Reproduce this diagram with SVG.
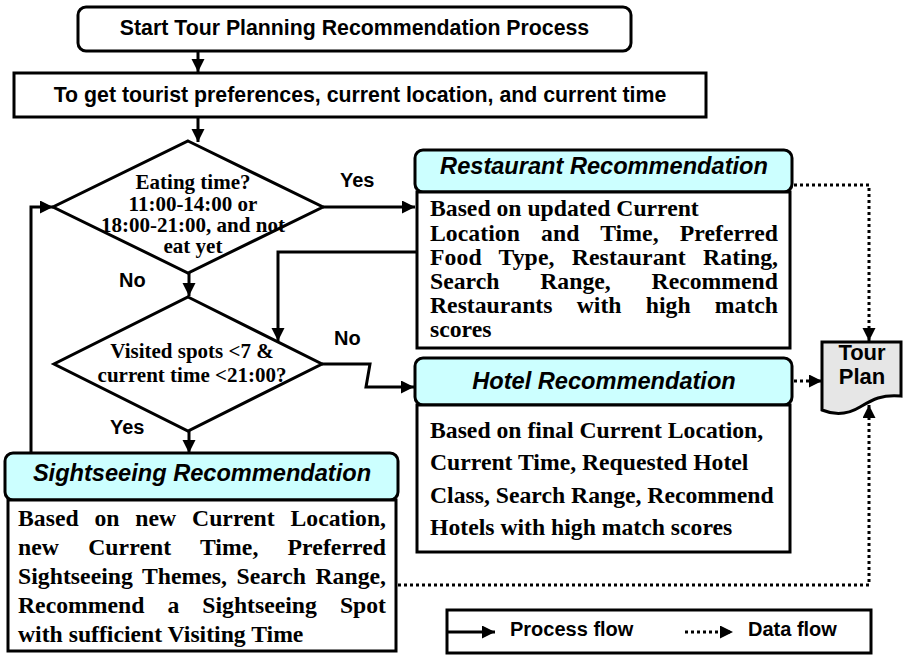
<svg xmlns="http://www.w3.org/2000/svg" width="903" height="655" viewBox="0 0 903 655">
<defs>
<marker id="ah" markerUnits="userSpaceOnUse" markerWidth="14" markerHeight="14" refX="13" refY="6.5" orient="auto"><path d="M0,0 L13,6.5 L0,13 z" fill="#000"/></marker>
<style>
.box{fill:#fff;stroke:#000;stroke-width:3}
.hdr{fill:#ccffff;stroke:#000;stroke-width:3}
.dia{fill:#fff;stroke:#000;stroke-width:3}
.doc{fill:#e6e6e6;stroke:#000;stroke-width:3}
.flow{fill:none;stroke:#000;stroke-width:3;marker-end:url(#ah)}
.data{fill:none;stroke:#000;stroke-width:3;stroke-dasharray:3 3;marker-end:url(#ah)}
.sans{font-family:"Liberation Sans",Arial,sans-serif;font-weight:bold;fill:#000}
.t1{font-size:21.3px}
.hd{font-size:23.6px;font-style:italic;text-anchor:middle}
.lbl{font-size:20px}
.serif{font-family:"Liberation Serif","Times New Roman",serif;font-weight:bold;fill:#000}
.body{font-size:23.7px}
.dtx{font-size:21px;text-anchor:middle}
</style>
</defs>

<g id="connectors">
<path class="flow" d="M198,51 V72"/>
<path class="flow" d="M198,117 V142"/>
<path class="flow" d="M323,207 H415"/>
<path class="flow" d="M189,273 V296"/>
<path class="flow" d="M417,252 H278 V341"/>
<path class="flow" d="M322,364 H370 L366,387 H414"/>
<path class="flow" d="M189,431 V453"/>
<path class="flow" d="M31,453 V207 H53"/>
<path class="data" d="M794,185 H869 V341"/>
<path class="data" d="M794,381 H822"/>
<path class="data" d="M398,585 H869 V405"/>
</g>

<g id="start">
<rect class="box" x="78" y="7" width="553" height="44" rx="8"/>
<text class="sans t1" x="354.5" y="35" text-anchor="middle">Start Tour Planning Recommendation Process</text>
</g>

<g id="getprefs">
<rect class="box" x="14" y="73" width="692" height="44"/>
<text class="sans t1" x="360" y="102" text-anchor="middle">To get tourist preferences, current location, and current time</text>
</g>

<g id="eating">
<path class="dia" d="M188,141 L323,207 L188,273 L53,207 Z"/>
<text class="serif dtx" x="193" y="189">Eating time?</text>
<text class="serif dtx" x="193" y="211">11:00-14:00 or</text>
<text class="serif dtx" x="193" y="232">18:00-21:00, and not</text>
<text class="serif dtx" x="193" y="253">eat yet</text>
</g>

<g id="visited">
<path class="dia" d="M188,297 L322,364 L188,431 L54,364 Z"/>
<text class="serif dtx" x="192" y="358">Visited spots &lt;7 &amp;</text>
<text class="serif dtx" x="192" y="382">current time &lt;21:00?</text>
</g>

<g id="labels">
<text class="sans lbl" x="340" y="187">Yes</text>
<text class="sans lbl" x="119" y="287">No</text>
<text class="sans lbl" x="334" y="345">No</text>
<text class="sans lbl" x="110" y="434">Yes</text>
</g>

<g id="restaurant">
<rect class="hdr" x="415" y="150" width="377" height="42" rx="8"/>
<text class="sans hd" x="604" y="174">Restaurant Recommendation</text>
<rect class="box" x="417" y="192" width="373" height="156"/>
<text class="serif body" x="430" y="216">Based on updated Current</text>
<text class="serif body" x="430" y="241" word-spacing="15.1" textLength="348" lengthAdjust="spacing">Location and Time, Preferred</text>
<text class="serif body" x="430" y="265" word-spacing="11.3" textLength="348" lengthAdjust="spacing">Food Type, Restaurant Rating,</text>
<text class="serif body" x="430" y="289" word-spacing="34.8" textLength="348" lengthAdjust="spacing">Search Range, Recommend</text>
<text class="serif body" x="430" y="313" word-spacing="18.3" textLength="348" lengthAdjust="spacing">Restaurants with high match</text>
<text class="serif body" x="430" y="337">scores</text>
</g>

<g id="hotel">
<rect class="hdr" x="415" y="358" width="377" height="47" rx="8"/>
<text class="sans hd" x="604" y="389">Hotel Recommendation</text>
<rect class="box" x="417" y="405" width="373" height="147"/>
<text class="serif body" x="430" y="438">Based on final Current Location,</text>
<text class="serif body" x="430" y="470">Current Time, Requested Hotel</text>
<text class="serif body" x="430" y="503">Class, Search Range, Recommend</text>
<text class="serif body" x="430" y="535">Hotels with high match scores</text>
</g>

<g id="sightseeing">
<rect class="hdr" x="5" y="453" width="393" height="47" rx="8"/>
<text class="sans hd" x="202" y="481">Sightseeing Recommendation</text>
<rect class="box" x="8" y="500" width="388" height="151"/>
<text class="serif body" x="18" y="526" word-spacing="9.9" textLength="368" lengthAdjust="spacing">Based on new Current Location,</text>
<text class="serif body" x="18" y="555" word-spacing="23.1" textLength="368" lengthAdjust="spacing">new Current Time, Preferred</text>
<text class="serif body" x="18" y="584" word-spacing="3.5" textLength="368" lengthAdjust="spacing">Sightseeing Themes, Search Range,</text>
<text class="serif body" x="18" y="613" word-spacing="17.1" textLength="368" lengthAdjust="spacing">Recommend a Sightseeing Spot</text>
<text class="serif body" x="18" y="642">with sufficient Visiting Time</text>
</g>

<g id="tourplan">
<path class="doc" d="M822,342 H901 V396 C882,394 872,400 860,407 C847,415 834,415 822,410 Z"/>
<text class="sans" x="862" y="360" font-size="22" text-anchor="middle">Tour</text>
<text class="sans" x="862" y="384" font-size="22" text-anchor="middle">Plan</text>
</g>

<g id="legend">
<rect class="box" x="447" y="610" width="424" height="43"/>
<path class="flow" d="M447,632 H495"/>
<text class="sans lbl" x="510" y="636" font-size="21">Process flow</text>
<path class="data" d="M685,632 H733"/>
<text class="sans lbl" x="748" y="636" font-size="21">Data flow</text>
</g>
</svg>
